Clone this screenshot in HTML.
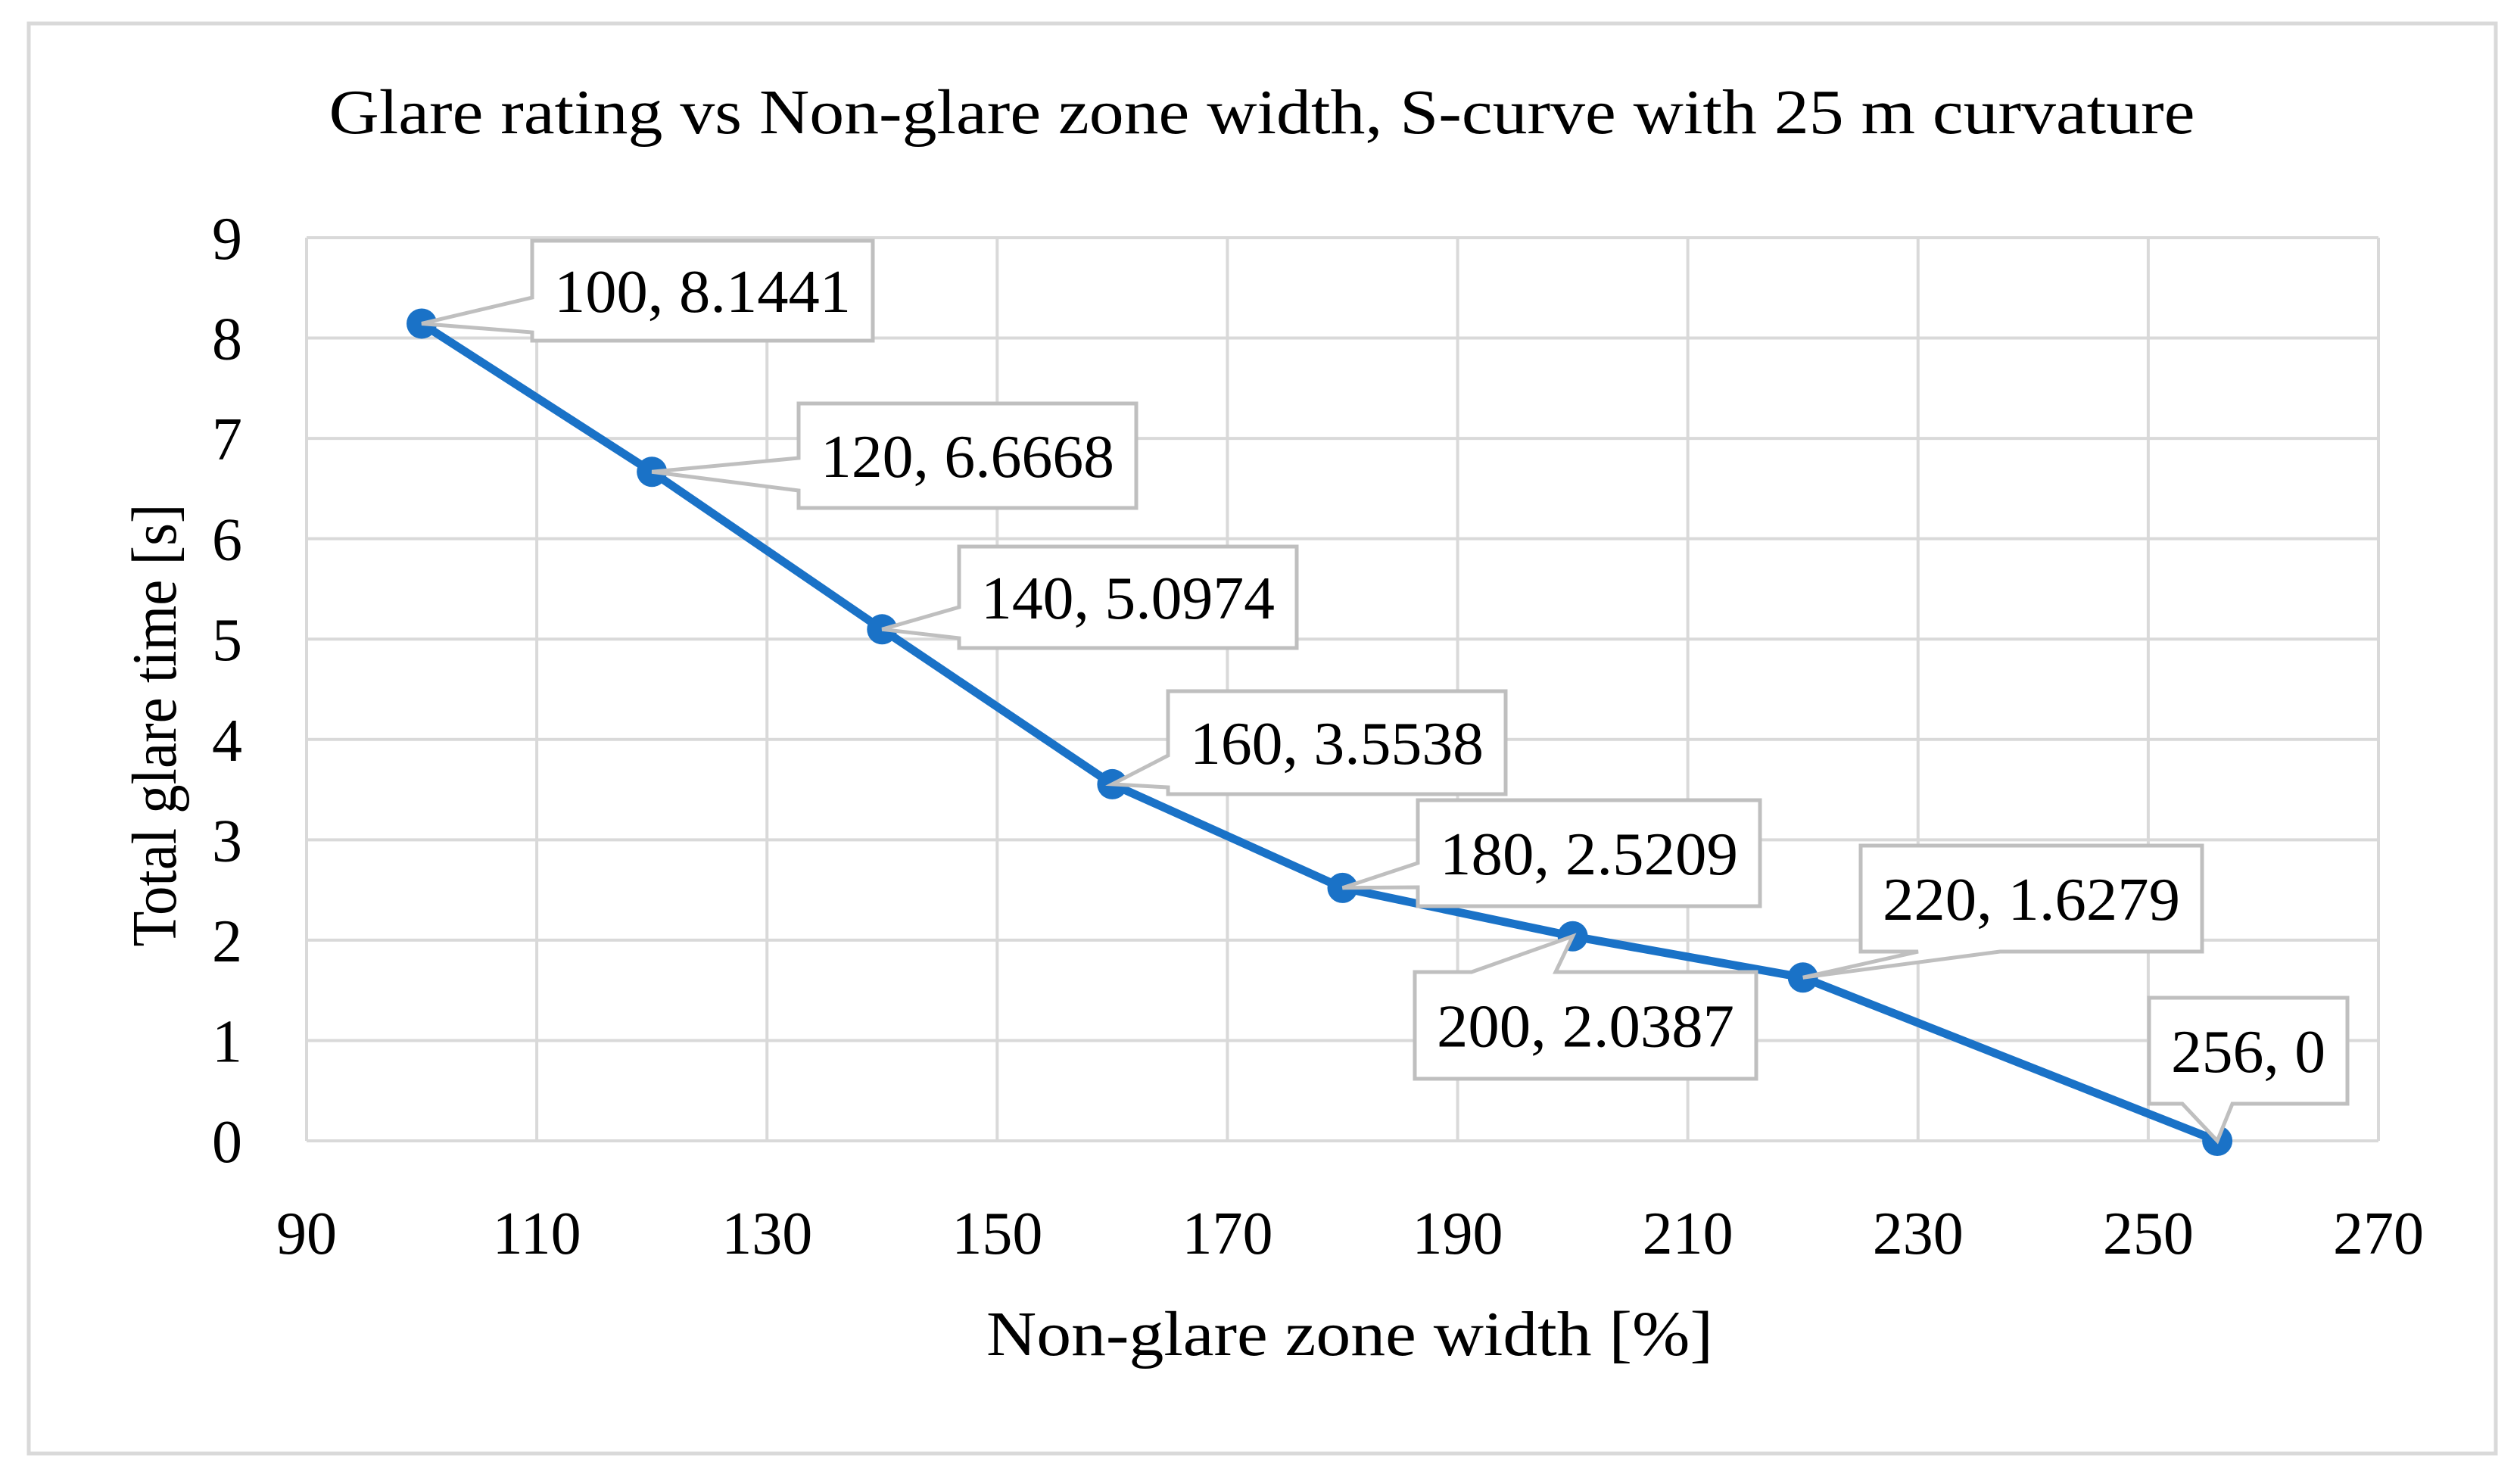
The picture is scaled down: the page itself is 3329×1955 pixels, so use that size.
<!DOCTYPE html>
<html><head><meta charset="utf-8"><style>
html,body{margin:0;padding:0;background:#fff}
svg{display:block}
text{font-family:"Liberation Serif",serif;fill:#000}
</style></head><body>
<svg id="chart" width="3329" height="1955" viewBox="0 0 3329 1955" xmlns="http://www.w3.org/2000/svg">
<rect x="38" y="31" width="3259" height="1889" fill="#fff" stroke="#d9d9d9" stroke-width="5"/>
<text x="1667" y="176" font-size="84" text-anchor="middle" textLength="2465" lengthAdjust="spacingAndGlyphs">Glare rating vs Non-glare zone width, S-curve with 25 m curvature</text>
<g id="grid"></g>
<g id="ticks"></g>
<text transform="translate(232,958) rotate(-90)" font-size="84" text-anchor="middle" textLength="585" lengthAdjust="spacingAndGlyphs">Total glare time [s]</text>
<text x="1783" y="1790" font-size="84" text-anchor="middle" textLength="960" lengthAdjust="spacingAndGlyphs">Non-glare zone width [%]</text>
<g id="series"></g>
<g id="labels"></g>
</svg>
<script>
const xValues = [100, 120, 140, 160, 180, 200, 220, 256];
const yValues = [8.1441, 6.6668, 5.0974, 3.5538, 2.5209, 2.0387, 1.6279, 0];
const xTicks = [90, 110, 130, 150, 170, 190, 210, 230, 250, 270];
const yTicks = [0, 1, 2, 3, 4, 5, 6, 7, 8, 9];

const NS = 'http://www.w3.org/2000/svg';
const L = 405, R = 3142, T = 314, B = 1507;
const xMin = 90, xMax = 270, yMin = 0, yMax = 9;
function sx(v){ return L + (v - xMin) / (xMax - xMin) * (R - L); }
function sy(v){ return B - (v - yMin) / (yMax - yMin) * (B - T); }
function mk(tag, attrs, parent){ const e = document.createElementNS(NS, tag); for (const k in attrs) e.setAttribute(k, attrs[k]); parent.appendChild(e); return e; }

const grid = document.getElementById('grid');
const ticks = document.getElementById('ticks');
xTicks.forEach(t => {
  const l = mk('line', {x1: sx(t), x2: sx(t), y1: T, y2: B, stroke: '#d9d9d9', 'stroke-width': 4}, grid);
  
  
  const tx = mk('text', {x: sx(t), y: 1656, 'font-size': 80, 'text-anchor': 'middle'}, ticks);
  tx.textContent = t;
  
  
});
yTicks.forEach(t => {
  const l = mk('line', {x1: L, x2: R, y1: sy(t), y2: sy(t), stroke: '#d9d9d9', 'stroke-width': 4}, grid);
  
  
  const tx = mk('text', {x: 320, y: sy(t) + 28, 'font-size': 80, 'text-anchor': 'end'}, ticks);
  tx.textContent = t;
  
  
});

const series = document.getElementById('series');
const pts = xValues.map((x, i) => [sx(x), sy(yValues[i])]);
const line = mk('polyline', {points: pts.map(p => p.join(',')).join(' '), fill: 'none', stroke: '#1a72c7', 'stroke-width': 11, 'stroke-linejoin': 'round'}, series);


pts.forEach(p => {
  const c = mk('circle', {cx: p[0], cy: p[1], r: 20, fill: '#1a72c7'}, series);
  
  
});

// callout layout (box x0,y0,x1,y1, wedge side, wedge base a..b)
const layout = [
  [703,318,1153,450,'left',393,439],
  [1055,533,1501,671,'left',605,648],
  [1267,722,1713,856,'left',802,843],
  [1543,913,1989,1049,'left',998,1040],
  [1873,1057,2325,1197,'left',1140,1172],
  [1869,1284,2320,1425,'top',1944,2055],
  [2458,1117,2909,1257,'bottom',2534,2642],
  [2839,1318,3101,1458,'bottom',2883,2949]
];
const labels = document.getElementById('labels');
xValues.forEach((x, i) => {
  const [x0,y0,x1,y1,side,a,b] = layout[i];
  const px = sx(x), py = sy(yValues[i]);
  let d;
  if (side === 'left') d = `M${x0},${y0} H${x1} V${y1} H${x0} V${b} L${px},${py} L${x0},${a} Z`;
  else if (side === 'top') d = `M${x0},${y0} H${a} L${px},${py} L${b},${y0} H${x1} V${y1} H${x0} Z`;
  else d = `M${x0},${y0} H${x1} V${y1} H${b} L${px},${py} L${a},${y1} H${x0} Z`;
  const g = mk('g', {}, labels);
  
  
  mk('path', {d: d, fill: '#fff', stroke: '#bfbfbf', 'stroke-width': 5, 'stroke-linejoin': 'miter'}, g);
  const t = mk('text', {x: (x0 + x1) / 2, y: (y0 + y1) / 2 + 28, 'font-size': 80, 'text-anchor': 'middle', textLength: (x1 - x0 - 58), lengthAdjust: 'spacingAndGlyphs'}, g);
  t.textContent = x + ', ' + yValues[i];
});
</script>
</body></html>
